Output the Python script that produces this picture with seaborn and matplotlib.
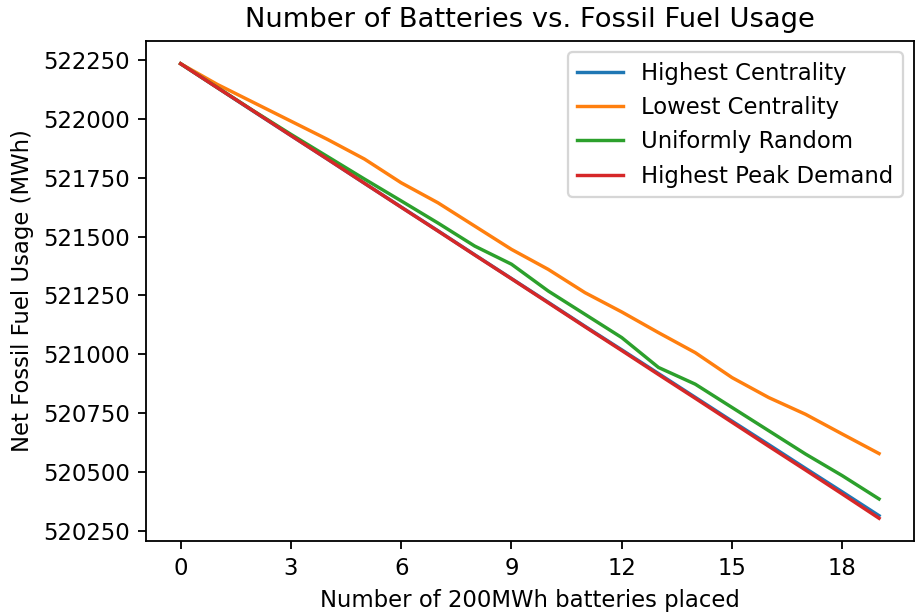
import matplotlib
matplotlib.use("Agg")
import matplotlib.pyplot as plt
import seaborn as sns
import pandas as pd

batteries = list(range(20))
highest_centrality = [522235, 522133, 522031, 521930, 521829, 521727, 521626, 521525, 521423, 521322,
                      521221, 521119, 521019, 520918, 520817, 520716, 520616, 520515, 520415, 520314]
lowest_centrality = [522235, 522147, 522069, 521991, 521913, 521830, 521729, 521644, 521545, 521446,
                     521361, 521262, 521180, 521092, 521007, 520901, 520816, 520745, 520661, 520578]
uniformly_random = [522235, 522134, 522033, 521935, 521840, 521745, 521652, 521558, 521460, 521383,
                    521269, 521170, 521071, 520944, 520873, 520774, 520675, 520576, 520484, 520385]
highest_peak_demand = [522235, 522133, 522032, 521930, 521829, 521727, 521625, 521524, 521422, 521321,
                       521219, 521117, 521016, 520914, 520813, 520711, 520609, 520508, 520406, 520303]
series_names = ["Highest Centrality", "Lowest Centrality", "Uniformly Random", "Highest Peak Demand"]
x_ticks = [0, 3, 6, 9, 12, 15, 18]

frames = []
for name, vals in zip(series_names, [highest_centrality, lowest_centrality, uniformly_random, highest_peak_demand]):
    frames.append(pd.DataFrame({"x": batteries, "y": vals, "Strategy": name}))
df = pd.concat(frames, ignore_index=True)

DPI = 164
fig = plt.figure(figsize=(917 / DPI, 614 / DPI), dpi=DPI)
ax = fig.add_axes([0.1589, 0.1189, 0.8378, 0.8143])
sns.lineplot(data=df, x="x", y="y", hue="Strategy", hue_order=series_names,
             palette=["#1f77b4", "#ff7f0e", "#2ca02c", "#d62728"], ax=ax, linewidth=1.5)
ax.set_xticks(x_ticks)
ax.ticklabel_format(axis="y", useOffset=False, style="plain")
ax.set_title("Number of Batteries vs. Fossil Fuel Usage")
ax.set_xlabel("Number of 200MWh batteries placed")
ax.set_ylabel("Net Fossil Fuel Usage (MWh)")
ax.legend(loc="upper right", title=None)
fig.savefig("out.png", dpi=DPI)
